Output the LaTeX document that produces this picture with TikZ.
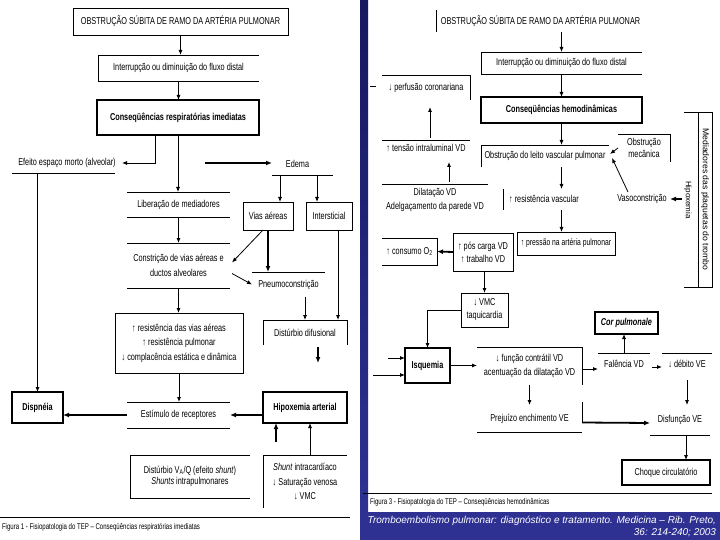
\documentclass[tikz,border=0pt]{standalone}
\usepackage{fontspec}
\setmainfont{Liberation Sans}[FakeStretch=0.73]
\newfontfamily\plainsans{Liberation Sans}
\usetikzlibrary{arrows.meta,calc}
\definecolor{navy}{RGB}{22,24,96}
\definecolor{bandblue}{RGB}{46,49,146}
\newcommand\mkn[7][]{\node[#1,minimum width={(#5)-(#3)},minimum height={(#6)-(#4)}] (#2) at ({((#3)+(#5))/2},{((#4)+(#6))/2}) {#7};}
\tikzset{
  every node/.style={inner sep=0pt,outer sep=0pt,align=center,font=\fontsize{10}{14.5}\selectfont},
  ln/.style={line width=0.8pt},
  box/.style={draw,line width=0.8pt},
  tbox/.style={draw,line width=2.8pt},
  arr/.style={line width=0.8pt,-{Latex[length=5pt,width=4pt]}},
  tarr/.style={line width=1.8pt,-{Latex[length=6pt,width=5pt]}},
  capt/.style={font=\fontsize{8.3}{10}\selectfont,anchor=west}
}
\begin{document}
\begin{tikzpicture}[x=1pt,y=-1pt]
\fill[white] (0,0) rectangle (720,540);
\useasboundingbox (0,0) rectangle (720,540);
\shade[top color=navy,bottom color=bandblue] (360,0) rectangle (368,512);
\fill[bandblue] (360,512) rectangle (720,540);

% ---------------- left panel ----------------
\mkn[box]{L1}{73}{8}{288}{35}{OBSTRUÇÃO SÚBITA DE RAMO DA ARTÉRIA PULMONAR}
\mkn{L2}{98}{55}{259}{81}{Interrupção ou diminuição do fluxo distal}
\draw[ln] (L2.north east) -- (L2.north west) -- (L2.south west) -- (L2.south east);
\mkn[tbox]{L3}{97}{100}{259}{135}{\bfseries Conseqüências respiratórias imediatas}
\mkn{L4}{12}{153}{122}{173}{Efeito espaço morto (alveolar)}
\draw[ln] (L4.south west) -- ++(103,0);
\mkn{LE}{272}{153}{333}{175}{Edema\hspace*{10pt}}
\draw[ln] (LE.south west) -- (LE.south east);
\coordinate (e0) at (205,163);
\mkn[box]{LV}{243}{202}{293}{230}{Vias aéreas}
\mkn[box]{LI}{306}{202}{352}{230}{Intersticial}
\mkn{LB1}{127}{192}{230}{217}{Liberação de mediadores}
\draw[ln] (LB1.north west) -- (LB1.north east) (LB1.south west) -- (LB1.south east);
\mkn{LC}{127}{243}{230}{288}{Constrição de vias aéreas e\\ductos alveolares}
\draw[ln] (LC.north west) -- (LC.north east) (LC.south west) -- (LC.south east);
\mkn[box]{LR}{115}{313}{243}{373}{↑ resistência das vias aéreas\\↑ resistência pulmonar\\↓ complacência estática e dinâmica}
\mkn{LS}{127}{402}{230}{428}{Estímulo de receptores}
\draw[ln] (LS.north west) -- (LS.north east) (LS.south west) -- (LS.south east);
\mkn[tbox]{LD}{12}{392}{63}{423}{\bfseries Dispnéia}
\mkn[tbox]{LH}{263}{392}{347}{423}{\bfseries Hipoxemia arterial}
\mkn{LP}{252}{272}{325}{297}{Pneumoconstrição}
\draw[ln] (LP.north west) -- (LP.north east);
\mkn{LDD}{263}{320}{347}{345}{Distúrbio difusional}
\draw[ln] (LDD.south west) -- (LDD.north west) -- (LDD.north east) -- (LDD.south east);
\mkn[font=\fontsize{10}{11.5}\selectfont]{LQ}{130}{455}{250}{498}{Distúrbio V\textsubscript{A}/Q (efeito \textit{shunt})\\\textit{Shunts} intrapulmonares}
\draw[ln] (LQ.north east) -- (LQ.north west) -- (LQ.south west) -- (LQ.south east);
\mkn{LSh}{263}{455}{347}{508}{\textit{Shunt} intracardíaco\\↓ Saturação venosa\\↓ VMC}
\draw[ln] (LSh.north east) -- (LSh.north west) -- (LSh.south west);

\draw[arr] (L1.south) -- (L1.south |- L2.north);
\draw[arr] (L2.south) -- (L2.south |- L3.north);
\draw[arr] ($(L3.south)+(-23,0)$) |- (L4.east);
\draw[arr] (L3.south) -- (L3.south |- LB1.north);
\draw[tarr] (e0) -- (e0 -| LE.west);
\draw[arr] ($(LE.south west)+(8,0)$) -- ($(LV.north)+(12,0)$);
\draw[arr] ($(LE.south west)+(45,0)$) -- ($(LI.north)+(-12,0)$);
\draw[arr] (LB1.south) -- (LC.north);
\draw[arr] (LC.south) -- (LC.south |- LR.north);
\draw[arr] (LR.south) -- (LR.south |- LS.north);
\draw[tarr] (LS.west) -- (LS.west -| LD.east);
\draw[tarr] (LH.west |- LS.west) -- (LS.east);
\draw[arr] (L4.south -| LD.north) -- (LD.north);
\draw[arr] ($(LV.south)+(-5,0)$) -- ($(LC.east)+(2,-3)$);
\draw[tarr] (LV.south) -- (LV.south |- LP.north);
\draw[arr] ($(LC.east)+(2,8)$) -- (LP.west);
\draw[arr] (LP.south -| LDD.north) -- (LDD.north);
\coordinate (iv) at ($(LI.south)+(9,0)$);
\draw[arr] (iv) -- (iv |- LDD.north);
\draw[tarr] ($(LDD.south)+(13,2)$) -- ++(0,16);
\draw[tarr] ($(LH.south)+(-29,19)$) -- ($(LH.south)+(-29,0)$);
\draw[arr] ($(LSh.north)+(5,0)$) -- ($(LH.south)+(5,0)$);

\draw[ln] (0,517) -- (350,517);
\node[capt] (cap1) at (2,527) {Figura 1 - Fisiopatologia do TEP – Conseqüências respiratórias imediatas};

% ---------------- right panel ----------------
\mkn{R1}{436}{10}{645}{32}{OBSTRUÇÃO SÚBITA DE RAMO DA ARTÉRIA PULMONAR}
\draw[ln] (R1.north west) -- (R1.south west);
\mkn{R2}{481}{52}{642}{74}{Interrupção ou diminuição do fluxo distal}
\draw[ln] (R2.north east) -- (R2.north west) -- (R2.south west) -- (R2.south east);
\mkn[tbox]{R3}{481}{97}{642}{123}{\bfseries Conseqüências hemodinâmicas}
\mkn{R4}{481}{145}{609}{167}{Obstrução do leito vascular pulmonar}
\draw[ln] (R4.north east) -- (R4.north west) -- (R4.south west);
\mkn[font=\fontsize{10}{11.5}\selectfont]{R5}{618}{134}{670}{162}{Obstrução\\mecânica}
\draw[ln] (R5.north west) -- (R5.north east) -- (R5.south east);
\mkn{R6}{614}{193}{670}{205}{Vasoconstrição}
\node[rotate=-90,font=\plainsans\fontsize{8}{9}\selectfont] (R7) at (688,200) {Hipoxemia};
\node[box,rotate=-90,minimum width=175,minimum height=14,font=\plainsans\fontsize{8.6}{10}\selectfont] (R8) at (705,199.5) {Mediadores das plaquetas do trombo};
\draw[ln] ($(R8.center)+(-7,-87.5)$) -- ++(-14,0);
\draw[ln] ($(R8.center)+(-7,87.5)$) -- ++(-14,0);
\mkn{R9}{382}{75}{470}{100}{↓ perfusão coronariana}
\draw[ln] (R9.north west) -- (R9.north east) -- (R9.south east);
\draw[ln] ($(R9.west)+(-12,-1)$) -- ++(6,0);
\mkn{R10}{382}{140}{470}{156}{↑ tensão intraluminal VD}
\draw[ln] (R10.north west) -- (R10.north east);
\mkn{R11}{382}{184}{488}{216}{Dilatação VD\\Adelgaçamento da parede VD}
\draw[ln] (R11.north west) -- (R11.north east);
\mkn{R12}{503}{189}{585}{210}{↑ resistência vascular}
\draw[ln] (R12.north west) -- (R12.south west);
\mkn[box,font=\fontsize{9.3}{12}\selectfont]{R13}{517}{232}{615}{255}{↑ pressão na artéria pulmonar}
\mkn[box,font=\fontsize{10}{13}\selectfont]{R14}{453}{233}{513}{271}{↑ pós carga VD\\↑ trabalho VD}
\mkn{R15}{382}{238}{437}{265}{↑ consumo O\textsubscript{2}}
\draw[ln] (R15.north west) -- (R15.north east) -- (R15.south east) -- (R15.south west);
\mkn[box,font=\fontsize{10}{13}\selectfont]{R16}{461}{293}{508}{327}{↓ VMC\\taquicardia}
\mkn[tbox]{R17}{405}{348}{450}{383}{\bfseries Isquemia}
\mkn{R18}{477}{347}{582}{385}{↓ função contrátil VD\\acentuação da dilatação VD}
\draw[ln] (R18.north west) -- (R18.north east) -- (R18.south east);
\mkn{R19}{598}{353}{650}{375}{Falência VD}
\draw[ln] (R19.north west) -- (R19.north east);
\mkn[tbox]{R20}{595}{312}{658}{334}{\bfseries\itshape Cor pulmonale}
\mkn{R21}{662}{353}{712}{375}{↓ débito VE}
\draw[ln] (R21.north west) -- (R21.north east);
\mkn{R22}{650}{405}{710}{435}{Disfunção VE}
\draw[ln] (R22.south west) -- (R22.south east);
\mkn{R23}{477}{405}{582}{432}{Prejuízo enchimento VE}
\draw[ln] (R23.south west) -- (R23.south east);
\mkn[tbox]{R24}{622}{460}{710}{485}{Choque circulatório}

\draw[arr] (R2.north |- R1.south) -- (R2.north);
\draw[arr] (R2.south) -- (R3.north);
\draw[arr] (R3.south) -- (R3.south |- R4.north);
\draw[arr] (R5.west) -- ($(R4.east)+(1,-2)$);
\draw[arr] ($(R6.north)+(-14,-1)$) -- ($(R4.east)+(3,2)$);
\draw[tarr] ($(R6.east)+(12,0)$) -- (R6.east);
\draw[arr] ($(R10.north)+(4,-2)$) -- ($(R9.south)+(4,7)$);
\draw[arr] ($(R11.north)+(14,-2)$) -- ($(R10.south)+(23,6)$);
\draw[arr] (R4.south -| R3.south) -- (R12.north -| R3.south);
\draw[arr] (R12.south -| R3.south) -- (R13.north -| R3.south);
\draw[tarr] (R14.west) -- (R15.east);
\draw[arr] (R14.south -| R16.north) -- (R16.north);
\draw[arr] (R16.west) -| (R17.north);
\coordinate (q1) at (388,358);
\coordinate (q2) at (373,375);
\draw[arr] (q1) -- (q1 -| R17.west);
\draw[arr] (q2) -- (q2 -| R17.west);
\draw[arr] (R17.east) -- (R17.east -| R18.west);
\draw[arr] ($(R18.east)+(0,3)$) -- ($(R19.west)+(0,5)$);
\draw[arr] (R19.north) -- (R19.north |- R20.south);
\draw[arr] ($(R19.east)+(2,3)$) -- ($(R21.west)+(0,3)$);
\draw[arr] ($(R21.south)+(0,5)$) -- (R21.south |- R22.north);
\draw[arr] (R18.south) -- (R23.north);
\draw[ln] ($(R23.north east)+(0,-3)$) -- ($(R23.east)+(0,4)$);
\draw[tarr] ($(R23.east)+(0,4)$) -- ($(R22.west)+(0,3)$);
\draw[arr] ($(R22.south)+(6,0)$) -- ($(R22.south)+(6,25)$);

\draw[ln] (363,493) -- (712,493);
\node[capt] (cap3) at (370,502) {Figura 3 - Fisiopatologia do TEP – Conseqüências hemodinâmicas};
\node[anchor=east,text=white,font=\plainsans\itshape\fontsize{10}{12}\selectfont] (ref1) at (716,521) {Tromboembolismo pulmonar: diagnóstico e tratamento. Medicina – Rib. Preto,};
\node[anchor=east,text=white,font=\plainsans\itshape\fontsize{10}{12}\selectfont] (ref2) at (716,533) {36: 214-240; 2003};
\end{tikzpicture}
\end{document}
